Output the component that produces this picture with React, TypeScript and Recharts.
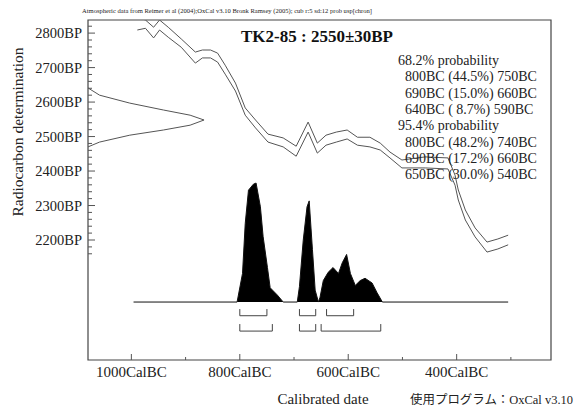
import React from 'react';
import { Area, ComposedChart, ReferenceArea, Scatter, XAxis, YAxis } from 'recharts';

// calibration curve (IntCal04 band)
const calYears = [989, 974, 959, 948, 932, 908, 882, 869, 854, 841, 827, 808, 790, 771, 748, 720, 696, 674, 657, 641, 622, 602, 583, 560, 541, 523, 501, 458, 416, 403, 397, 384, 366, 344, 324, 305];
const upperBP = [2846, 2838, 2817, 2838, 2817, 2783, 2745, 2751, 2751, 2742, 2707, 2655, 2583, 2548, 2507, 2496, 2472, 2542, 2481, 2504, 2513, 2519, 2498, 2498, 2481, 2455, 2432, 2441, 2438, 2388, 2345, 2287, 2235, 2194, 2203, 2214];
const lowerBP = [2809, 2814, 2786, 2809, 2788, 2759, 2713, 2728, 2728, 2716, 2681, 2632, 2562, 2525, 2484, 2470, 2443, 2513, 2452, 2475, 2484, 2493, 2475, 2470, 2461, 2438, 2409, 2409, 2406, 2359, 2316, 2258, 2209, 2165, 2174, 2186];

// calibrated probability distribution
const densYears = [996, 805, 795, 790, 784, 775, 770, 762, 757, 749, 744, 731, 720, 694, 690, 683, 676, 672, 666, 661, 655, 652, 646, 637, 628, 618, 611, 603, 596, 587, 578, 569, 556, 547, 537, 305];
const densValues = [0, 0, 0.24, 0.66, 0.94, 0.99, 1.0, 0.8, 0.55, 0.29, 0.12, 0.06, 0, 0, 0.13, 0.52, 0.8, 0.85, 0.44, 0.1, 0, 0.04, 0.18, 0.25, 0.29, 0.24, 0.33, 0.4, 0.24, 0.14, 0.18, 0.2, 0.16, 0.08, 0, 0];

// radiocarbon date 2550±30BP, drawn on the left axis
const gaussBP = [2641, 2620, 2597, 2577, 2562, 2548, 2533, 2519, 2504, 2484, 2470];
const gaussProb = [0, 0.1, 0.36, 0.65, 0.88, 1, 0.88, 0.65, 0.36, 0.1, 0];

const ranges68 = [[800, 750], [690, 660], [640, 590]];
const ranges95 = [[800, 740], [690, 660], [650, 540]];

const bpTicks = [2160, 2180, 2200, 2220, 2240, 2260, 2280, 2300, 2320, 2340, 2360, 2380, 2400, 2420, 2440, 2460, 2480, 2500, 2520, 2540, 2560, 2580, 2600, 2620, 2640, 2660, 2680, 2700, 2720, 2740, 2760, 2780, 2800, 2820];
const calTicks = [-1000, -900, -800, -700, -600, -500, -400, -300];

const resultLines = [
  { text: '68.2% probability', head: true },
  { text: '800BC (44.5%) 750BC' },
  { text: '690BC (15.0%) 660BC' },
  { text: '640BC ( 8.7%) 590BC' },
  { text: '95.4% probability', head: true },
  { text: '800BC (48.2%) 740BC' },
  { text: '690BC (17.2%) 660BC' },
  { text: '650BC (30.0%) 540BC' },
];

const SERIF = '"Liberation Serif", "Times New Roman", serif';
const INK = '#222';
const CURVE = '#555';

const upperData = calYears.map((y, i) => ({ x: -y, bp: upperBP[i] }));
const lowerData = calYears.map((y, i) => ({ x: -y, bp: lowerBP[i] }));
const densData = densYears.map((y, i) => ({ x: -y, d: densValues[i] }));
const gaussData = gaussBP.map((bp, i) => ({ g: gaussProb[i], bp }));

// bracket rows under the distribution (y in density units)
const bracketRows = [
  { ranges: ranges68, top: -0.059, bottom: -0.115 },
  { ranges: ranges95, top: -0.185, bottom: -0.244 },
];
const brackets = bracketRows.flatMap((row) =>
  row.ranges.map(([from, to]) => [
    { x: -from, d: row.top },
    { x: -from, d: row.bottom },
    { x: -to, d: row.bottom },
    { x: -to, d: row.top },
  ]),
);

const BpTick = ({ x, y, payload }: any) => {
  const major = payload.value % 100 === 0;
  return (
    <g>
      <line x1={x} x2={x + (major ? 7 : 4)} y1={y} y2={y} stroke="#555" />
      {major && (
        <text x={x - 6} y={y} dy={5} textAnchor="end" fontSize={14.5} fontFamily={SERIF} fill={INK}>
          {payload.value}BP
        </text>
      )}
    </g>
  );
};

const CalTick = ({ x, y, payload }: any) => {
  const major = payload.value % 200 === 0;
  return (
    <g>
      <line x1={x} x2={x} y1={y} y2={y - (major ? 6 : 3)} stroke="#555" />
      {major && (
        <text x={x} y={y + 17} textAnchor="middle" fontSize={15} fontFamily={SERIF} fill={INK}>
          {-payload.value}CalBC
        </text>
      )}
    </g>
  );
};

const noDot = () => <g />;

export default function App() {
  return (
    <div style={{ position: 'absolute', left: 0, top: 0, width: 577, height: 409, background: '#fff' }}>
      <ComposedChart
        width={577}
        height={409}
        data={densData}
        margin={{ top: 20, right: 26, bottom: 0, left: 0 }}
      >
        <XAxis
          xAxisId="cal"
          dataKey="x"
          type="number"
          domain={[-1080, -226]}
          ticks={calTicks}
          tick={<CalTick />}
          tickLine={false}
          axisLine={false}
          tickSize={0}
          tickMargin={0}
          height={49}
          allowDataOverflow
        />
        <XAxis xAxisId="g" dataKey="g" type="number" domain={[0, 3.99]} hide allowDataOverflow />
        <YAxis
          yAxisId="bp"
          dataKey="bp"
          type="number"
          domain={[1852, 2838]}
          ticks={bpTicks}
          tick={<BpTick />}
          tickLine={false}
          axisLine={false}
          tickSize={0}
          tickMargin={0}
          width={88}
          interval={0}
          allowDataOverflow
        />
        <YAxis yAxisId="dens" dataKey="d" type="number" domain={[-0.487, 2.37]} hide allowDataOverflow />

        <ReferenceArea
          xAxisId="cal"
          yAxisId="bp"
          x1={-1080}
          x2={-226}
          y1={1852}
          y2={2838}
          fill="none"
          stroke="#444"
          strokeWidth={1.2}
        />

        <Area
          xAxisId="cal"
          yAxisId="dens"
          dataKey="d"
          type="linear"
          baseValue={0}
          stroke="#111"
          strokeWidth={1}
          fill="#000"
          fillOpacity={1}
          isAnimationActive={false}
        />

        <Scatter
          xAxisId="cal"
          yAxisId="bp"
          data={upperData}
          line={{ stroke: CURVE, strokeWidth: 1 }}
          shape={noDot}
          isAnimationActive={false}
        />
        <Scatter
          xAxisId="cal"
          yAxisId="bp"
          data={lowerData}
          line={{ stroke: CURVE, strokeWidth: 1 }}
          shape={noDot}
          isAnimationActive={false}
        />
        <Scatter
          xAxisId="g"
          yAxisId="bp"
          data={gaussData}
          line={{ stroke: CURVE, strokeWidth: 1 }}
          shape={noDot}
          isAnimationActive={false}
        />
        {brackets.map((pts, i) => (
          <Scatter
            key={i}
            xAxisId="cal"
            yAxisId="dens"
            data={pts}
            line={{ stroke: '#444', strokeWidth: 1 }}
            shape={noDot}
            isAnimationActive={false}
          />
        ))}
      </ComposedChart>

      <svg
        width={577}
        height={409}
        style={{ position: 'absolute', left: 0, top: 0, pointerEvents: 'none' }}
      >
        <text x={82} y={13} fontSize={6.5} fontFamily={SERIF} fill={INK} textLength={290} lengthAdjust="spacingAndGlyphs">
          Atmospheric data from Reimer et al (2004);OxCal v3.10 Bronk Ramsey (2005); cub r:5 sd:12 prob usp[chron]
        </text>
        <text x={317} y={42} textAnchor="middle" fontSize={17} fontWeight="bold" fontFamily={SERIF} fill="#111">
          TK2-85 : 2550±30BP
        </text>
        {resultLines.map((l, i) => (
          <text
            key={i}
            x={l.head ? 398 : 405}
            y={65 + i * 16.3}
            fontSize={14}
            fontFamily={SERIF}
            fill={INK}
            xmlSpace="preserve"
          >
            {l.text}
          </text>
        ))}
        <text
          transform="translate(23,132) rotate(-90)"
          textAnchor="middle"
          fontSize={15.5}
          fontFamily={SERIF}
          fill={INK}
        >
          Radiocarbon determination
        </text>
        <text x={323} y={404} textAnchor="middle" fontSize={15} fontFamily={SERIF} fill={INK}>
          Calibrated date
        </text>
        <text
          x={410}
          y={404}
          fontSize={12}
          fontFamily={'"Liberation Serif", "Noto Sans CJK JP", serif'}
          fill={INK}
          textLength={163}
          lengthAdjust="spacingAndGlyphs"
        >
          使用プログラム：OxCal v3.10
        </text>
      </svg>
    </div>
  );
}
